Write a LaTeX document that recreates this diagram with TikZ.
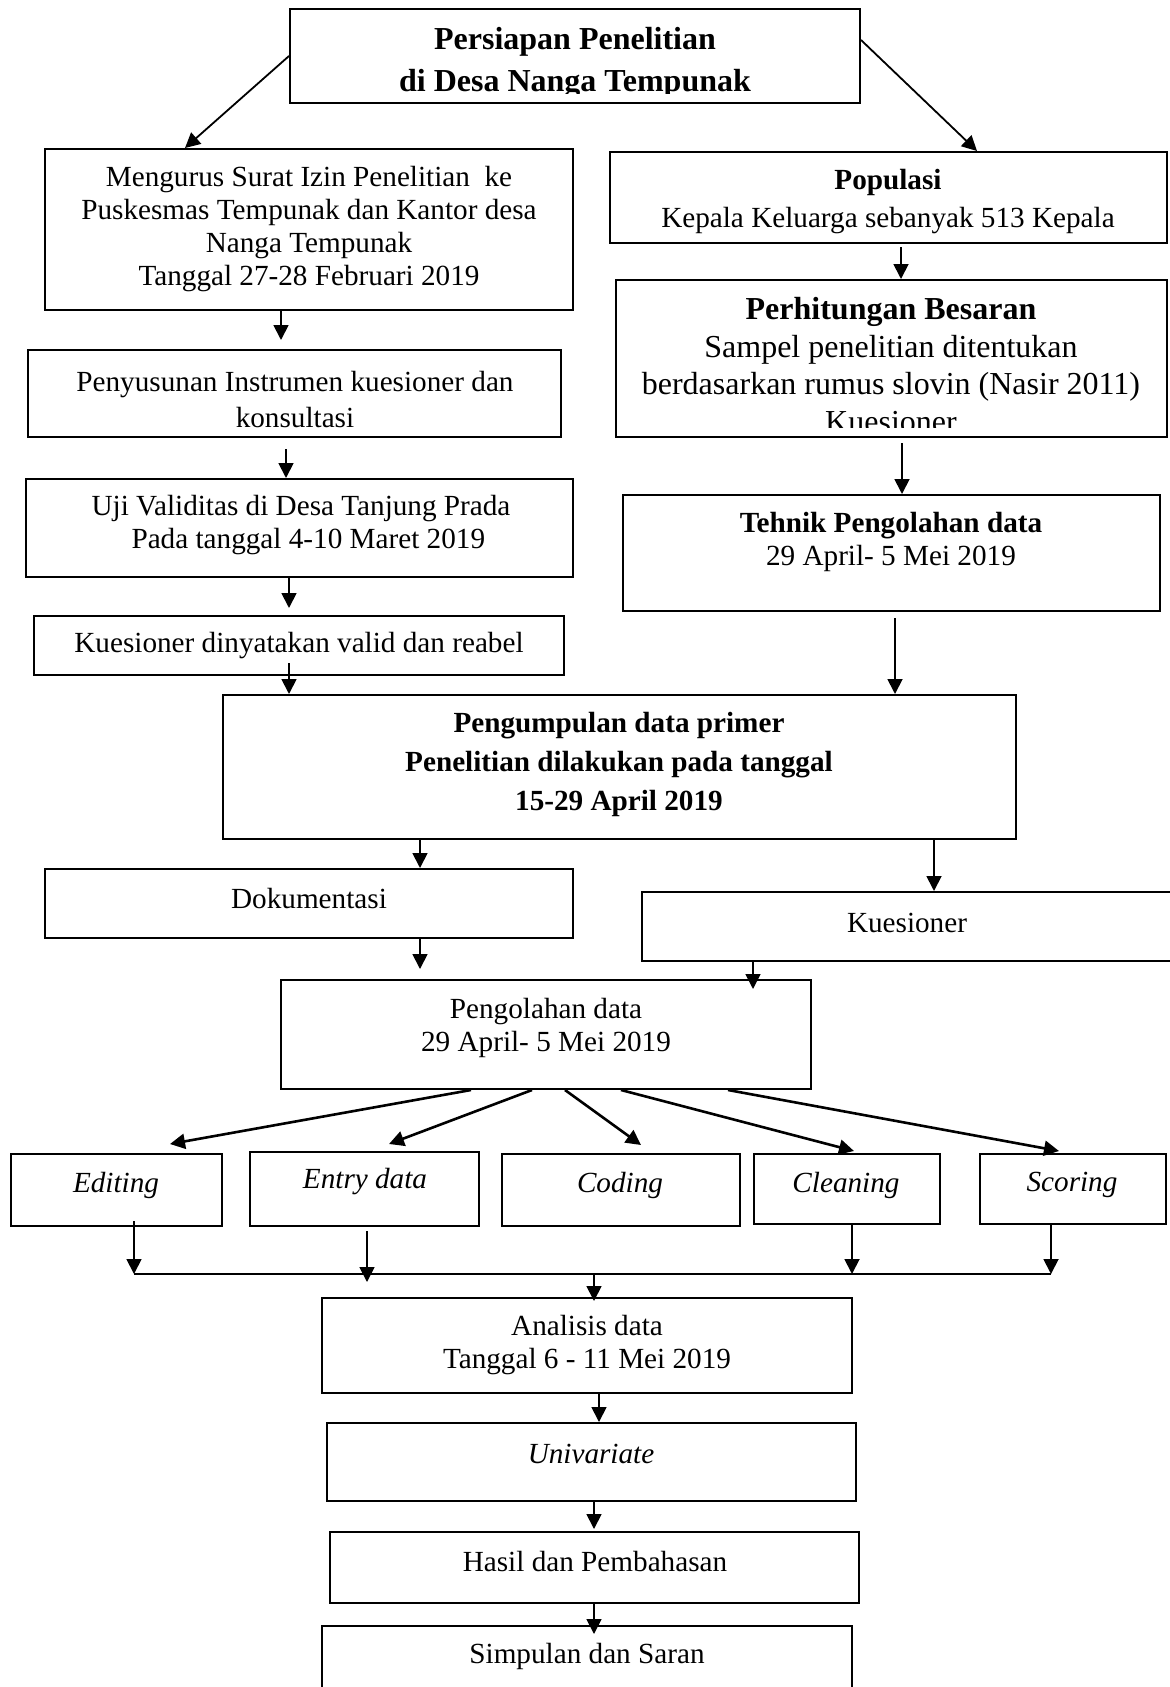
\documentclass[tikz,border=0pt]{standalone}
\usepackage{fontspec}
\setmainfont{Liberation Serif}
\usetikzlibrary{arrows.meta}
\usetikzlibrary{fit}
\tikzset{box/.style = {draw, line width=1pt, inner sep=0pt}}
\tikzset{txt/.style = {align=center, inner sep=0pt, font=\fontsize{14.6}{16.5}\selectfont}}
\tikzset{itx/.style = {txt, font=\fontsize{14.6}{16.5}\selectfont\itshape}}
\tikzset{arr/.style = {-{Triangle[length=7.5pt, width=7.5pt]}, line width=0.9pt}}
\tikzset{fan/.style = {-{Triangle[length=7.5pt, width=7.5pt]}, line width=1.3pt}}

\begin{document}
\begin{tikzpicture}[x=0.5pt, y=-0.5pt]
  \useasboundingbox (0, 0) rectangle (1169, 1687);

  \node [box, fit={(290, 9) (860, 103)}] (persiapan) {};
  \begin{scope}
    \clip (290, 9) rectangle (860, 93);
    \node [txt, font=\fontsize{16}{21}\selectfont\bfseries] (persiapan-t) at (575, 63)
      {Persiapan Penelitian\\di Desa Nanga Tempunak};
  \end{scope}

  % left column
  \node [box, fit={(45, 149) (573, 310)}] (mengurus) {};
  \node [txt] (mengurus-t) at (309, 229)
    {Mengurus Surat Izin Penelitian\ \ ke\\Puskesmas Tempunak dan Kantor desa\\Nanga Tempunak\\Tanggal 27-28 Februari 2019};
  \node [box, fit={(28, 350) (561, 437)}] (penyusunan) {};
  \node [txt, font=\fontsize{14.6}{18}\selectfont] (penyusunan-t) at (295, 400)
    {Penyusunan Instrumen kuesioner dan\\konsultasi};
  \node [box, fit={(26, 479) (573, 577)}] (uji) {};
  \node [txt] (uji-t) at (301, 525)
    {Uji Validitas di Desa Tanjung Prada\\\ \ Pada tanggal 4-10 Maret 2019};
  \node [box, fit={(34, 616) (564, 675)}] (valid) {};
  \node [txt] (valid-t) at (299, 646) {Kuesioner dinyatakan valid dan reabel};

  % right column
  \node [box, fit={(610, 152) (1167, 243)}] (populasi) {};
  \node [txt, font=\fontsize{14.6}{19}\selectfont] (populasi-t) at (888, 202)
    {\textbf{Populasi}\\Kepala Keluarga sebanyak 513 Kepala};
  \node [box, fit={(616, 280) (1167, 437)}] (perhitungan) {};
  \begin{scope}
    \clip (616, 280) rectangle (1167, 427);
    \node [txt, font=\fontsize{16}{18.8}\selectfont] (perhitungan-t) at (891, 365)
      {\textbf{Perhitungan Besaran}\\Sampel penelitian ditentukan\\berdasarkan rumus slovin (Nasir 2011)\\Kuesioner};
  \end{scope}
  \node [box, fit={(623, 495) (1160, 611)}] (tehnik) {};
  \node [txt] (tehnik-t) at (891, 542)
    {\textbf{Tehnik Pengolahan data}\\29 April- 5 Mei 2019};

  \node [box, fit={(223, 695) (1016, 839)}] (pengumpulan) {};
  \node [txt, font=\fontsize{14.6}{19.5}\selectfont\bfseries] (pengumpulan-t) at (619, 764)
    {Pengumpulan data primer\\Penelitian dilakukan pada tanggal\\15-29 April 2019};

  \node [box, fit={(45, 869) (573, 938)}] (dokumentasi) {};
  \node [txt] (dokumentasi-t) at (309, 898) {Dokumentasi};
  \node [box, fit={(642, 892) (1180, 961)}] (kuesioner) {};
  \node [txt] (kuesioner-t) at (907, 923) {Kuesioner};

  \node [box, fit={(281, 980) (811, 1089)}] (pengolahan) {};
  \node [txt] (pengolahan-t) at (546, 1028) {Pengolahan data\\29 April- 5 Mei 2019};

  % processing steps
  \node [box, fit={(11, 1154) (222, 1226)}] (editing) {};
  \node [itx] (editing-t) at (116, 1185) {Editing};
  \node [box, fit={(250, 1152) (479, 1226)}] (entry) {};
  \node [itx] (entry-t) at (365, 1182) {Entry data};
  \node [box, fit={(502, 1154) (740, 1226)}] (coding) {};
  \node [itx] (coding-t) at (620, 1185) {Coding};
  \node [box, fit={(754, 1154) (940, 1224)}] (cleaning) {};
  \node [itx] (cleaning-t) at (846, 1185) {Cleaning};
  \node [box, fit={(980, 1154) (1166, 1224)}] (scoring) {};
  \node [itx] (scoring-t) at (1072, 1185) {Scoring};

  \node [box, fit={(322, 1298) (852, 1393)}] (analisis) {};
  \node [txt] (analisis-t) at (587, 1345) {Analisis data\\Tanggal 6 - 11 Mei 2019};
  \node [box, fit={(327, 1423) (856, 1501)}] (univariate) {};
  \node [itx] (univariate-t) at (591, 1454) {Univariate};
  \node [box, fit={(330, 1532) (859, 1603)}] (hasil) {};
  \node [txt] (hasil-t) at (595, 1561) {Hasil dan Pembahasan};
  \node [box, fit={(322, 1626) (852, 1700)}] (simpulan) {};
  \node [txt] (simpulan-t) at (587, 1656) {Simpulan dan Saran};

  % connectors
  \draw [arr] (persiapan.west) -- (mengurus.north -| 185, 0);
  \draw [arr] (persiapan.east |- 0, 40) -- (populasi.north -| 977, 0);
  \draw [arr, shorten >=4.5pt] (mengurus.south -| 281, 0) -- (penyusunan.north -| 281, 0);
  \draw [arr, shorten <=5.5pt] (penyusunan.south -| 286, 0) -- (uji.north -| 286, 0);
  \draw [arr, shorten >=3.5pt] (uji.south -| 289, 0) -- (valid.north -| 289, 0);
  \draw [arr, shorten <=-6.5pt] (valid.south -| 289, 0) -- (pengumpulan.north -| 289, 0);
  \draw [arr, shorten <=1.5pt] (populasi.south -| 901, 0) -- (perhitungan.north -| 901, 0);
  \draw [arr, shorten <=2.5pt] (perhitungan.south -| 902, 0) -- (tehnik.north -| 902, 0);
  \draw [arr, shorten <=3pt] (tehnik.south -| 895, 0) -- (pengumpulan.north -| 895, 0);
  \draw [arr] (pengumpulan.south -| 420, 0) -- (dokumentasi.north -| 420, 0);
  \draw [arr] (pengumpulan.south -| 934, 0) -- (kuesioner.north -| 934, 0);
  \draw [arr, shorten >=5pt] (dokumentasi.south -| 420, 0) -- (pengolahan.north -| 420, 0);
  \draw [arr, shorten >=-5pt] (kuesioner.south -| 753, 0) -- (pengolahan.north -| 753, 0);

  \coordinate (editing-in) at (170, 1144);
  \coordinate (entry-in) at (389, 1144);
  \coordinate (coding-in) at (641, 1145);
  \coordinate (cleaning-in) at (854, 1151);
  \coordinate (scoring-in) at (1059, 1151);
  \foreach \s/\t in {471/editing, 532/entry, 565/coding, 621/cleaning, 728/scoring}
    \draw [fan] (pengolahan.south -| \s, 0) -- (\t-in);

  \coordinate (merge-l) at (134, 1274);
  \coordinate (merge-r) at (1051, 1274);
  \draw [line width=1pt] (merge-l) -- (merge-r);
  \draw [arr, shorten <=-3pt] (editing.south -| 134, 0) -- (merge-l);
  \draw [arr, shorten <=2pt, shorten >=-4pt] (entry.south -| 367, 0) -- (merge-l -| 367, 0);
  \draw [arr] (cleaning.south -| 852, 0) -- (merge-l -| 852, 0);
  \draw [arr] (scoring.south -| 1051, 0) -- (merge-r);
  \draw [arr, shorten >=-2pt] (merge-l -| 594, 0) -- (analisis.north -| 594, 0);

  \draw [arr] (analisis.south -| 599, 0) -- (univariate.north -| 599, 0);
  \draw [arr, shorten >=1pt] (univariate.south -| 594, 0) -- (hasil.north -| 594, 0);
  \draw [arr, shorten >=-4.5pt] (hasil.south -| 594, 0) -- (simpulan.north -| 594, 0);
\end{tikzpicture}
\end{document}
